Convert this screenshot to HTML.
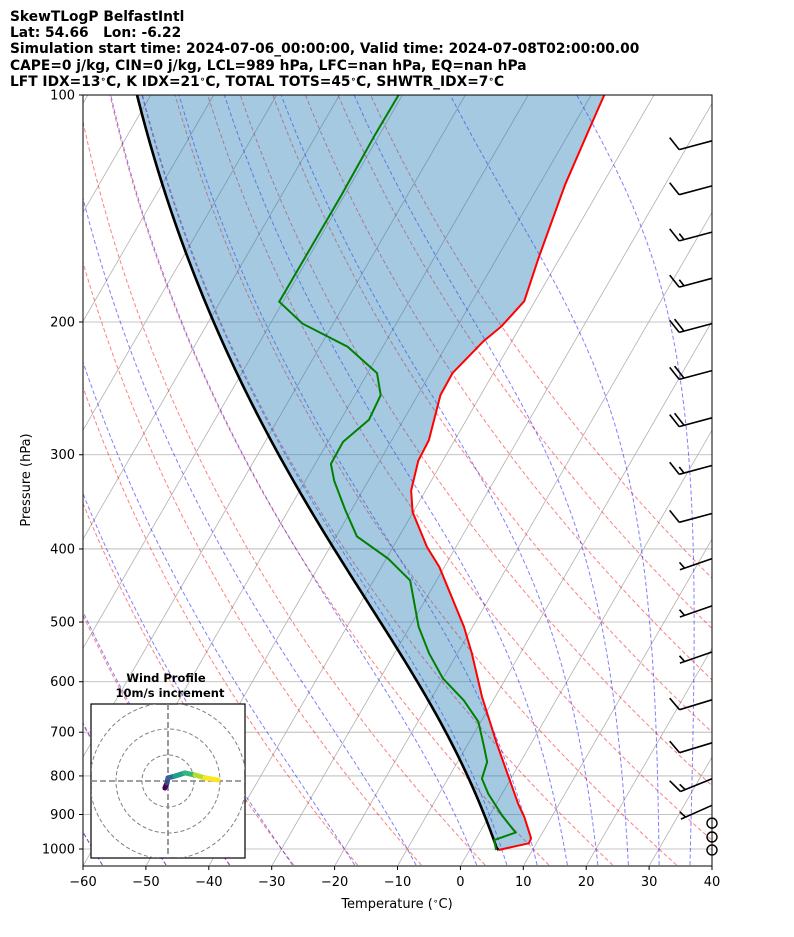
<!DOCTYPE html>
<html><head><meta charset="utf-8"><style>
html,body{margin:0;padding:0;background:#fff;}
svg{display:block;font-family:"DejaVu Sans","Liberation Sans",sans-serif;}
</style></head><body>
<svg id="chart" width="794" height="937" viewBox="0 0 794 937" xmlns="http://www.w3.org/2000/svg">
<defs><clipPath id="plotclip"><rect x="83" y="95" width="629" height="771"/></clipPath>
<clipPath id="hodoclip"><rect x="91" y="704" width="154" height="154"/></clipPath></defs>
<g font-weight="bold" font-size="13.8" style="white-space:pre">
<text x="10" y="21">SkewTLogP BelfastIntl</text>
<text x="10" y="37" xml:space="preserve">Lat: 54.66   Lon: -6.22</text>
<text x="10" y="53">Simulation start time: 2024-07-06_00:00:00, Valid time: 2024-07-08T02:00:00.00</text>
<text x="10" y="70">CAPE=0 j/kg, CIN=0 j/kg, LCL=989 hPa, LFC=nan hPa, EQ=nan hPa</text>
<text x="10" y="86">LFT IDX=13<tspan font-size="9" dy="-4">∘</tspan><tspan dy="4">C, K IDX=21</tspan><tspan font-size="9" dy="-4">∘</tspan><tspan dy="4">C, TOTAL TOTS=45</tspan><tspan font-size="9" dy="-4">∘</tspan><tspan dy="4">C, SHWTR_IDX=7</tspan><tspan font-size="9" dy="-4">∘</tspan><tspan dy="4">C</tspan></text>
</g>
<g id="plot" clip-path="url(#plotclip)"></g>
<rect x="83" y="95" width="629" height="771" fill="none" stroke="#000" stroke-width="1"/>
<g id="axes"></g>
<text x="30" y="480" font-size="13" text-anchor="middle" transform="rotate(-90 30 480)">Pressure (hPa)</text>
<text x="397" y="908" font-size="13" text-anchor="middle">Temperature (<tspan font-size="9" dy="-4">∘</tspan><tspan dy="4">C)</tspan></text>
<g id="hodo"></g>
</svg>
<script>
// ---- data ----
const envP = [100,110.4,131.5,164.3,187.7,202.6,212,233.8,250,287,305.5,334.6,357.3,397.6,422.6,507.3,550.2,628.2,724,802.6,871.5,907.5,968,982.7,1003];
const envT = [-47.9,-47.2,-45.9,-43.4,-41.7,-43,-44.5,-46.5,-46.4,-44.1,-43.9,-42.3,-40.1,-34.6,-30.8,-21.4,-17.7,-12.1,-5.5,-0.5,3.5,5.7,8.7,8.8,4.6];
const dewP = [100,113.5,135.8,188,201,215.7,233.8,250,269.6,288.4,308.5,325,355,385,412,440.4,507.3,550.2,594,634.9,677.8,731.6,766.5,806.6,844.8,902.8,951,973,1003];
const dewT = [-80.6,-80.7,-80.5,-80.6,-74.9,-65.6,-58.5,-55.9,-55.5,-57.6,-57.5,-55.4,-51,-46.7,-39.7,-34.2,-28.6,-24.5,-20,-14.7,-10.4,-7.2,-5.3,-4.6,-2.2,2,5.7,3,4.2];
const barbP = [115,132,152,175,201,232,268,310,359,412,476,548,634,723,807,875];
const barbSpd = [10,10,15,15,20,20,20,15,10,5,5,5,10,10,15,5];
const barbDir = [255,255,255,255,255,255,255,255,255,251,251,251,253,253,248,246];
const calmP = [924,964,1003];
const hodoU = [-1.2,-0.4,0,2.7,6.5,10.4,14.2,19.2];
const hodoV = [-2.7,-0.8,1.2,1.9,3.1,2.3,1.2,0.4];
const xTicks = [-60,-50,-40,-30,-20,-10,0,10,20,30,40];
const pTicks = [100,200,300,400,500,600,700,800,900,1000];

// ---- axis functions ----
const NS="http://www.w3.org/2000/svg";
function yP(p){return 849+754*Math.log10(p/1000);}
function xT(T,p){return 83+(T+60)*6.29+(866-yP(p))*0.5774;}
function mk(tag,attrs,parent){const e=document.createElementNS(NS,tag);for(const k in attrs)e.setAttribute(k,attrs[k]);parent.appendChild(e);return e;}
function svgRoot(){return document.getElementById('chart');}
const plot=document.getElementById('plot'), axes=document.getElementById('axes'), hodo=document.getElementById('hodo');
function ptsStr(ps,ts){return ps.map((p,i)=>xT(ts[i],p).toFixed(2)+','+yP(p).toFixed(2)).join(' ');}

const pres=[];for(let p=1050;p>=100;p-=5)pres.push(p);
for(let T=-200;T<=40;T+=10){const l=mk('line',{x1:xT(T,1050),y1:yP(1050),x2:xT(T,100),y2:yP(100),stroke:'#b0b0b0','stroke-width':0.8},plot);

}
pTicks.forEach(p=>{const l=mk('line',{x1:83,y1:yP(p),x2:712,y2:yP(p),stroke:'#b0b0b0','stroke-width':0.8},plot);

});
for(let th=-60;th<=90;th+=10){const ts=pres.map(p=>(th+273.15)*Math.pow(p/1000,0.2857)-273.15);
const l=mk('polyline',{points:ptsStr(pres,ts),fill:'none',stroke:'rgba(255,0,0,0.5)','stroke-width':1,'stroke-dasharray':'4,2.5'},plot);

}
function es(Tk){const c=Tk-273.15;return 6.112*Math.exp(17.67*c/(c+243.5));}
function dTdp(p,Tk){const rs=0.622*es(Tk)/(p-es(Tk));const Rd=287.04,Cp=1005.7,Lv=2.501e6;
return (1/p)*(Rd*Tk+Lv*rs)/(Cp+(Lv*Lv*rs*0.622)/(Rd*Tk*Tk));}
function moist(p0,T0c,pList){let T=T0c+273.15,p=p0;const out=[];
for(const pt of pList){const n=Math.max(1,Math.ceil(Math.abs(pt-p)/2));const h=(pt-p)/n;
for(let i=0;i<n;i++){const k1=dTdp(p,T),k2=dTdp(p+h/2,T+h/2*k1),k3=dTdp(p+h/2,T+h/2*k2),k4=dTdp(p+h,T+h*k3);T+=h/6*(k1+2*k2+2*k3+k4);p+=h;}
out.push(T-273.15);}return out;}
const mts=[];for(let t=-60;t<0;t+=10)mts.push(t);for(let t=0;t<=90;t+=5)mts.push(t);
const presUp=[];for(let p=1000;p>=100;p-=5)presUp.push(p);
mts.forEach(t0=>{const up=moist(1000,t0,presUp);const dn=moist(1000,t0,[1050]);
const ps=[1050].concat(presUp), ts=dn.concat(up);
const l=mk('polyline',{points:ptsStr(ps,ts),fill:'none',stroke:'rgba(0,0,255,0.5)','stroke-width':1,'stroke-dasharray':'4,2.5'},plot);

});
// parcel
const sp=envP[envP.length-1], sT=envT[envT.length-1]+273.15, sTd=dewT[dewT.length-1]+273.15;
const Tl=1/(1/(sTd-56)+Math.log(sT/sTd)/800)+56; const pl=sp*Math.pow(Tl/sT,1/0.2857);
const parP=[sp,pl], parT=[sT-273.15,Tl-273.15];
const upP=[];for(let p=Math.floor(pl);p>100;p-=5)upP.push(p);upP.push(100);
const mu=moist(pl,Tl-273.15,upP);upP.forEach((p,i)=>{parP.push(p);parT.push(mu[i]);});
const envRev=envP.map((p,i)=>[p,envT[i]]).reverse();
const fillStr=envRev.map(a=>xT(a[1],a[0]).toFixed(2)+','+yP(a[0]).toFixed(2)).join(' ')+' '+parP.slice().reverse().map((p,i)=>xT(parT[parT.length-1-i],p).toFixed(2)+','+yP(p).toFixed(2)).join(' ');
const f=mk('polygon',{points:fillStr,fill:'rgba(31,119,180,0.4)',stroke:'none'},plot);


const pl1=mk('polyline',{points:ptsStr(parP,parT),fill:'none',stroke:'#000','stroke-width':2.6},plot);


const tl=mk('polyline',{points:ptsStr(envP,envT),fill:'none',stroke:'#ff0000','stroke-width':2},plot);


const dl=mk('polyline',{points:ptsStr(dewP,dewT),fill:'none',stroke:'#008000','stroke-width':2},plot);


// barbs
barbP.forEach((p,i)=>{const bx=712,by=yP(p);const r=barbDir[i]*Math.PI/180;const dx=Math.sin(r),dy=-Math.cos(r);
const L=34;const tx=bx+dx*L,ty=by+dy*L;const nx=-dy,ny=dx;
let d='M'+bx+','+by.toFixed(1)+'L'+tx.toFixed(1)+','+ty.toFixed(1);
let s=barbSpd[i],pos=0;const full=Math.floor(s/10),half=(s%10)>=5?1:0;
for(let k=0;k<full;k++){const sx=tx-dx*pos,sy=ty-dy*pos;d+='M'+sx.toFixed(1)+','+sy.toFixed(1)+'L'+(sx+nx*14+dx*6).toFixed(1)+','+(sy+ny*14+dy*6).toFixed(1);pos+=5;}
if(half){if(full===0)pos=5;const sx=tx-dx*pos,sy=ty-dy*pos;d+='M'+sx.toFixed(1)+','+sy.toFixed(1)+'L'+(sx+nx*7+dx*3).toFixed(1)+','+(sy+ny*7+dy*3).toFixed(1);}
const b=mk('path',{d:d,fill:'none',stroke:'#000','stroke-width':1.6},svgRoot());

});
calmP.forEach(p=>{const c=mk('circle',{cx:712,cy:yP(p),r:5,fill:'none',stroke:'#000','stroke-width':1.4},svgRoot());

});
// ticks
xTicks.forEach(t=>{const x=83+(t+60)*6.29;mk('line',{x1:x,y1:866,x2:x,y2:870,stroke:'#000'},axes);
const tx=mk('text',{x:x,y:886,'font-size':13,'text-anchor':'middle'},axes);tx.textContent=(t<0?'\u2212'+(-t):t);

});
pTicks.forEach(p=>{const y=yP(p);mk('line',{x1:79,y1:y,x2:83,y2:y,stroke:'#000'},axes);
const tx=mk('text',{x:75,y:y+4.5,'font-size':13,'text-anchor':'end'},axes);tx.textContent=p;

});
// hodograph
const hb=mk('rect',{x:91,y:704,width:154,height:154,fill:'#fff',stroke:'#000','stroke-width':1.2},hodo);


const hg=mk('g',{'clip-path':'url(#hodoclip)'},hodo);
const hcx=168,hcy=781,hs=2.6;
[10,20,30].forEach(r=>mk('circle',{cx:hcx,cy:hcy,r:r*hs,fill:'none',stroke:'#808080','stroke-width':1,'stroke-dasharray':'4,2.5'},hg));
mk('line',{x1:91,y1:hcy,x2:245,y2:hcy,stroke:'#808080','stroke-width':1.6,'stroke-dasharray':'6,3'},hg);
mk('line',{x1:hcx,y1:704,x2:hcx,y2:858,stroke:'#808080','stroke-width':1.6,'stroke-dasharray':'6,3'},hg);
const vir=['#440154','#482878','#3e4989','#31688e','#26828e','#1f9e89','#35b779','#6ece58','#b5de2b','#fde725'];
for(let i=0;i<hodoU.length-1;i++){const c=vir[Math.round(i/(hodoU.length-2)*9)];
const s=mk('line',{x1:hcx+hodoU[i]*hs,y1:hcy-hodoV[i]*hs,x2:hcx+hodoU[i+1]*hs,y2:hcy-hodoV[i+1]*hs,stroke:c,'stroke-width':5,'stroke-linecap':'round'},hg);

}
const ht=mk('text',{x:166,y:682,'font-size':11.5,'font-weight':'bold','text-anchor':'middle'},hodo);ht.textContent='Wind Profile';


const ht2=mk('text',{x:170,y:697,'font-size':11.5,'font-weight':'bold','text-anchor':'middle'},hodo);ht2.textContent='10m/s increment';


</script>
</body></html>
